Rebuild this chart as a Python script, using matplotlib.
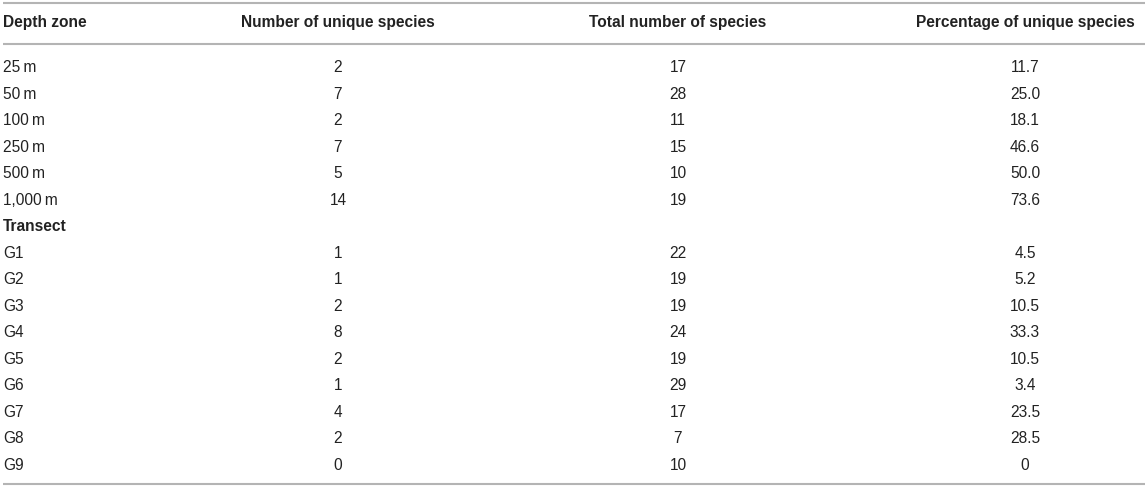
import matplotlib
matplotlib.use("Agg")
import matplotlib.pyplot as plt

plt.rcParams['font.family'] = ['Liberation Sans', 'DejaVu Sans']

# table contents
headers = ["Depth zone", "Number of unique species",
           "Total number of species", "Percentage of unique species"]
depth_zones = ["25\u2009m", "50\u2009m", "100\u2009m", "250\u2009m", "500\u2009m", "1,000\u2009m"]
depth_unique = [2, 7, 2, 7, 5, 14]
depth_total = [17, 28, 11, 15, 10, 19]
depth_pct = [11.7, 25.0, 18.1, 46.6, 50.0, 73.6]

transects = ["G1", "G2", "G3", "G4", "G5", "G6", "G7", "G8", "G9"]
transect_unique = [1, 1, 2, 8, 2, 1, 4, 2, 0]
transect_total = [22, 19, 19, 24, 19, 29, 17, 7, 10]
transect_pct = [4.5, 5.2, 10.5, 33.3, 10.5, 3.4, 23.5, 28.5, 0]

W, H = 1145, 489
fig = plt.figure(figsize=(W / 100, H / 100), dpi=100)
ax = fig.add_axes([0, 0, 1, 1])
ax.set_xlim(0, W)
ax.set_ylim(H, 0)
ax.axis('off')

# layout
col_x = [3, 338, 678, 1025]
header_y = 23
first_y = 68
row_h = 26.47
fs = 11.2
txt_col = "#222222"
line_col = "#b4b4b4"


def fmt_pct(v):
    return "0" if v == 0 else f"{v:.1f}"


# header
for j, h in enumerate(headers):
    ax.text(col_x[j], header_y, h, ha='left' if j == 0 else 'center', va='center',
            fontsize=fs, fontweight='bold', color=txt_col)

rows = []
for z, u, t, p in zip(depth_zones, depth_unique, depth_total, depth_pct):
    rows.append((z, str(u), str(t), fmt_pct(p), False))
rows.append(("Transect", "", "", "", True))
for z, u, t, p in zip(transects, transect_unique, transect_total, transect_pct):
    rows.append((z, str(u), str(t), fmt_pct(p), False))

for i, r in enumerate(rows):
    y = first_y + i * row_h
    for j in range(4):
        if not r[j]:
            continue
        ax.text(col_x[j], y, r[j], ha='left' if j == 0 else 'center', va='center',
                fontsize=fs, fontweight='bold' if r[4] else 'normal', color=txt_col)

# rules
for y in [3.5, 44.5, 485]:
    ax.plot([3, W], [y, y], color=line_col, lw=1.5, solid_capstyle='butt')

fig.savefig("out.png", dpi=100)
